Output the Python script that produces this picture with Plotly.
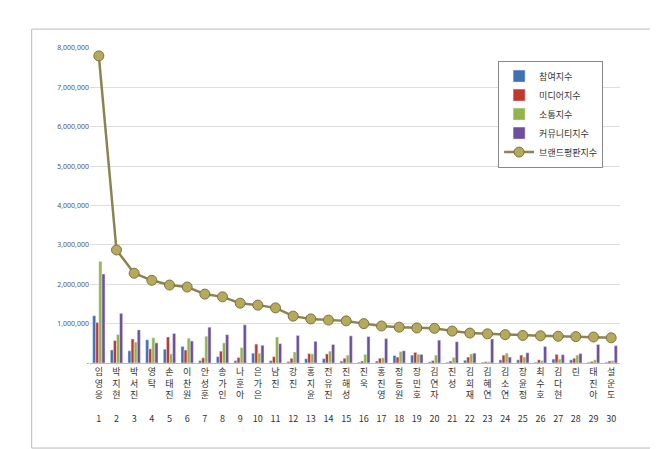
import plotly.graph_objects as go

names = ["임영웅","박지현","박서진","영탁","손태진","이찬원","안성훈","송가인","나훈아","은가은","남진","강진","홍지윤","전유진","진해성","진욱","홍진영","정동원","장민호","김연자","진성","김희재","김혜연","김소연","장윤정","최수호","김다현","린","태진아","설운도"]
participation = [1.2,0.33,0.31,0.59,0.35,0.42,0.06,0.16,0.06,0.25,0.06,0.04,0.11,0.11,0.05,0.02,0.05,0.19,0.2,0.03,0.02,0.07,0.02,0.08,0.08,0.02,0.1,0.08,0.02,0.02]
media = [1.03,0.57,0.61,0.36,0.66,0.33,0.13,0.3,0.14,0.48,0.16,0.12,0.24,0.23,0.12,0.05,0.12,0.15,0.27,0.06,0.05,0.15,0.03,0.2,0.2,0.08,0.22,0.12,0.04,0.05]
communication = [2.58,0.72,0.53,0.64,0.23,0.63,0.68,0.51,0.39,0.25,0.66,0.28,0.23,0.3,0.2,0.22,0.13,0.29,0.22,0.2,0.14,0.23,0.03,0.25,0.15,0.06,0.1,0.2,0.08,0.06]
community = [2.26,1.26,0.84,0.51,0.75,0.56,0.91,0.72,0.97,0.45,0.49,0.7,0.55,0.47,0.69,0.67,0.62,0.31,0.22,0.58,0.54,0.25,0.61,0.15,0.26,0.42,0.21,0.24,0.47,0.44]
brand = [7.8,2.87,2.28,2.1,1.98,1.93,1.75,1.68,1.52,1.47,1.4,1.19,1.12,1.09,1.07,1.0,0.94,0.91,0.89,0.88,0.81,0.76,0.74,0.72,0.7,0.69,0.68,0.67,0.66,0.64]
tickvals = [0,1e6,2e6,3e6,4e6,5e6,6e6,7e6,8e6]
ticktext = ["-","1,000,000","2,000,000","3,000,000","4,000,000","5,000,000","6,000,000","7,000,000","8,000,000"]

M = 1e6
def lab(i, n):
    chars = list(n) + ["&nbsp;"] * (3 - len(n))
    return "<br>".join(chars) + "<br><br>" + str(i + 1)
labels = [lab(i, n) for i, n in enumerate(names)]
x = list(range(len(names)))

fig = go.Figure()
for nm, vals, col in [("참여지수", participation, "#3f6fb5"), ("미디어지수", media, "#c0392f"),
                      ("소통지수", communication, "#93b44a"), ("커뮤니티지수", community, "#6d4f9e")]:
    fig.add_bar(x=x, y=[v*M for v in vals], name=nm, marker_color=col)
fig.add_scatter(x=x, y=[v*M for v in brand], name="브랜드평판지수", mode="lines+markers",
                line=dict(color="#8c8350", width=2.5),
                marker=dict(size=10, color="#b5a95c", line=dict(color="#7d7440", width=1)))

fig.update_layout(
    width=658, height=449, barmode="group", bargap=0.3, bargroupgap=0,
    paper_bgcolor="white", plot_bgcolor="white",
    margin=dict(l=82, r=46, t=40, b=94),
    font=dict(family="Noto Sans CJK KR", size=9, color="#333"),
    legend=dict(x=0.77, y=0.96, xanchor="left", yanchor="top", bordercolor="#888", borderwidth=1,
                font=dict(size=9), tracegroupgap=14, itemwidth=30),
    shapes=[dict(type="rect", xref="paper", yref="paper", x0=-0.11, y0=-0.27, x1=1.06, y1=1.06,
                 line=dict(color="#bbb", width=1))],
)
fig.update_yaxes(range=[0, 8e6], tickvals=tickvals, ticktext=ticktext, showgrid=True,
                 gridcolor="#ddd", tickfont=dict(size=7, family="Noto Sans", color="#555"),
                 zeroline=False, showline=False)
fig.update_xaxes(tickvals=x, ticktext=labels, tickangle=0, range=[-0.5, 29.5],
                 showline=True, linecolor="#bbb", tickfont=dict(size=9))
fig.write_html("out.html")
